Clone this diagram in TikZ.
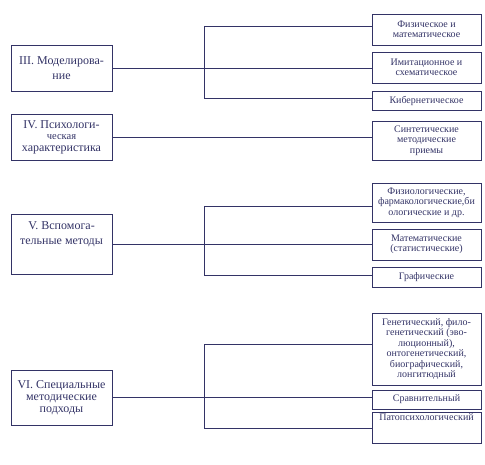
\documentclass[tikz,border=0pt]{standalone}
\usepackage{fontspec}
\setmainfont{Liberation Serif}
\usepackage{xcolor}
\usetikzlibrary{calc,positioning}
\definecolor{schemeNavy}{RGB}{51,51,102}
\tikzset{
  mainbox/.style={draw=schemeNavy,line width=0.9pt,text=schemeNavy,align=center,
    inner sep=1pt,minimum width=101pt,font=\fontsize{12}{15}\selectfont},
  subbox/.style={draw=schemeNavy,line width=0.9pt,text=schemeNavy,align=center,
    inner sep=1pt,minimum width=109pt,font=\fontsize{10}{10.5}\selectfont},
  link/.style={draw=schemeNavy,line width=0.9pt}
}
\begin{document}
\begin{tikzpicture}[x=1pt,y=-1pt,line cap=butt,line join=miter]
  \useasboundingbox (0,0) rectangle (485,465);
  % main groups
  \node[mainbox,minimum height=46pt] (grpIII) at (61.5,68) {III. Моделирова-\\ние};
  \node[mainbox,minimum height=46pt,font=\fontsize{12}{11.5}\selectfont] (grpIV) at (61.5,137)
    {IV. Психологи-\\{\fontsize{10.5}{11.5}\selectfont ческая}\\характеристика};
  \node[mainbox,minimum height=60pt] (grpV) at (61.5,244) {V. Вспомога-\\тельные методы\\[6pt]};
  \node[mainbox,minimum height=55pt,font=\fontsize{12}{12}\selectfont] (grpVI) at (61.5,397.5)
    {VI. Специальные\\методические\\подходы};
  % methods
  \node[subbox,minimum height=31pt] (mFiz) at (426.5,29.5) {Физическое и\\математическое};
  \node[subbox,minimum height=31pt] (mImit) at (426.5,67.5) {Имитационное и\\схематическое};
  \node[subbox,minimum height=19pt] (mKib) at (426.5,100.5) {Кибернетическое};
  \node[subbox,minimum height=39pt] (mSint) at (426.5,140.5) {Синтетические\\методические\\приемы};
  \node[subbox,minimum height=39pt] (mFiziol) at (426.5,202.5)
    {Физиологические,\\фармакологические,би\\ологические и др.};
  \node[subbox,minimum height=31pt] (mMat) at (426.5,244.5) {Математические\\(статистические)};
  \node[subbox,minimum height=20pt] (mGraf) at (426.5,277) {Графические};
  \node[subbox,minimum height=72pt] (mGen) at (426.5,349)
    {Генетический, фило-\\генетический (эво-\\люционный),\\онтогенетический,\\биографический,\\лонгитюдный};
  \node[subbox,minimum height=19pt] (mSrav) at (426.5,399.5) {Сравнительный};
  \node[subbox,minimum height=31pt] (mPat) at (426.5,427.5) {Патопсихологический\\[10pt]};
  % branch points on the spines
  \coordinate (spIIIa) at (204,26);
  \coordinate (spIIIb) at (204,98);
  \coordinate (spVa) at (204,206);
  \coordinate (spVb) at (204,275);
  \coordinate (spVIa) at (204,344);
  \coordinate (spVIb) at (204,428);
  % III
  \draw[link] (grpIII.east) -- (grpIII.east -| mImit.west);
  \draw[link] (spIIIa) -- (spIIIb);
  \draw[link] (spIIIa) -- (spIIIa -| mFiz.west);
  \draw[link] (spIIIb) -- (spIIIb -| mKib.west);
  % IV
  \draw[link] (grpIV.east) -- (grpIV.east -| mSint.west);
  % V
  \draw[link] (grpV.east) -- (grpV.east -| mMat.west);
  \draw[link] (spVa) -- (spVb);
  \draw[link] (spVa) -- (spVa -| mFiziol.west);
  \draw[link] (spVb) -- (spVb -| mGraf.west);
  % VI
  \draw[link] (grpVI.east) -- (grpVI.east -| mSrav.west);
  \draw[link] (spVIa) -- (spVIb);
  \draw[link] (spVIa) -- (spVIa -| mGen.west);
  \draw[link] (spVIb) -- (spVIb -| mPat.west);
\end{tikzpicture}
\end{document}
